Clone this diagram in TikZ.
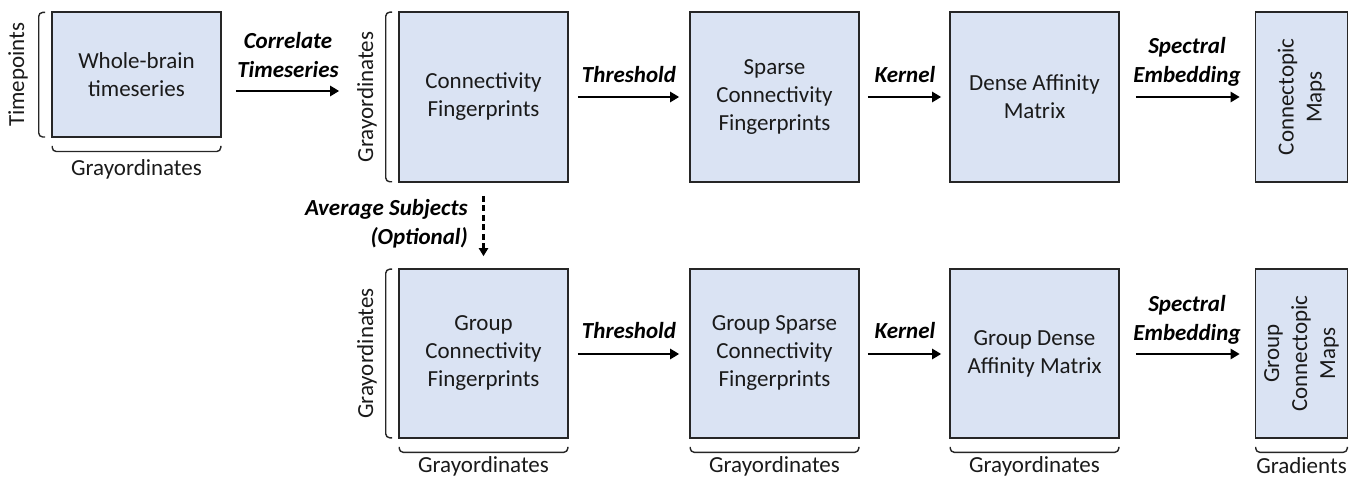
\documentclass[tikz,border=0pt]{standalone}
\usepackage{fontspec}
\setmainfont{Carlito}
\usetikzlibrary{arrows.meta}
\definecolor{boxfill}{HTML}{DAE3F3}
\definecolor{boxline}{HTML}{262626}
\definecolor{txt}{HTML}{1A1A1A}
\begin{document}
\begin{tikzpicture}[x=1pt,y=-1pt,
  mbox/.style={draw=boxline, fill=boxfill, line width=1.6pt, inner sep=0pt, align=center, text=txt, font=\fontsize{23}{28}\selectfont},
  lbl/.style={font=\fontsize{23}{29}\selectfont\bfseries\itshape, align=center, text=black, inner sep=0pt},
  axislbl/.style={font=\fontsize{23}{28}\selectfont, text=txt, inner sep=0pt},
  flow/.style={line width=2.6pt, -{Triangle[length=9pt,width=10pt]}},
  dflow/.style={line width=2.2pt, dash pattern=on 6pt off 3.5pt, -{Triangle[length=8pt,width=9pt]}},
  brk/.style={line width=1.4pt, draw=boxline, rounded corners=4pt}
]
\useasboundingbox (0,0) rectangle (1360,478);

% row 1 boxes
\node[mbox, minimum width=169pt, minimum height=125pt] (b1) at (136.5,74.7) {Whole-brain\\timeseries};
\node[mbox, minimum width=169pt, minimum height=170pt] (b2) at (483.5,97) {Connectivity\\Fingerprints};
\node[mbox, minimum width=169pt, minimum height=170pt] (b3) at (774.5,97) {Sparse\\Connectivity\\Fingerprints};
\node[mbox, minimum width=169pt, minimum height=170pt] (b4) at (1034.5,97) {Dense Affinity\\Matrix};
\node[mbox, rotate=90, minimum width=170pt, minimum height=92pt] (b5) at (1301.5,97) {Connectopic\\Maps};

% row 2 boxes
\node[mbox, minimum width=169pt, minimum height=169pt] (b6) at (483.5,353.5) {Group\\Connectivity\\Fingerprints};
\node[mbox, minimum width=169pt, minimum height=169pt] (b7) at (774.5,353.5) {Group Sparse\\Connectivity\\Fingerprints};
\node[mbox, minimum width=169pt, minimum height=169pt] (b8) at (1034.5,353.5) {Group Dense\\Affinity Matrix};
\node[mbox, rotate=90, minimum width=169pt, minimum height=92pt] (b9) at (1301.5,353.5) {Group\\Connectopic\\Maps};

% arrows row 1
\draw[flow] ([shift={(14,16.3)}]b1.east) -- ([shift={(-59,-6)}]b2.west);
\draw[flow] ([shift={(9,0)}]b2.east) -- ([shift={(-10,0)}]b3.west);
\draw[flow] ([shift={(8,0)}]b3.east) -- ([shift={(-8,0)}]b4.west);
\draw[flow] ([shift={(16,0)}]b4.east) -- ([shift={(-15,0)}]b5.north);
% arrows row 2
\draw[flow] ([shift={(9,0.5)}]b6.east) -- ([shift={(-10,0.5)}]b7.west);
\draw[flow] ([shift={(8,0.5)}]b7.east) -- ([shift={(-8,0.5)}]b8.west);
\draw[flow] ([shift={(16,0.5)}]b8.east) -- ([shift={(-15,0.5)}]b9.north);
% dashed
\draw[dflow] ([shift={(0,13)}]b2.south) -- ([shift={(0,-12)}]b6.north);

% arrow labels
\node[lbl] (l1) at (288,55.5) {Correlate\\Timeseries};
\node[lbl] (l2) at (629,75) {Threshold};
\node[lbl] (l3) at (905,75) {Kernel};
\node[lbl] (l4) at (1187,61.7) {Spectral\\Embedding};
\node[lbl] (l5) at (629,331) {Threshold};
\node[lbl] (l6) at (905,331) {Kernel};
\node[lbl] (l7) at (1187,320) {Spectral\\Embedding};
\node[lbl, align=right, anchor=east] (l8) at (468,224) {Average Subjects\\(Optional)};

% left brackets
\draw[brk] ([shift={(-6,1)}]b1.north west) -- ([shift={(-12.5,1)}]b1.north west) -- ([shift={(-12.5,-1)}]b1.south west) -- ([shift={(-6,-1)}]b1.south west);
\draw[brk] ([shift={(-6,1)}]b2.north west) -- ([shift={(-12.5,1)}]b2.north west) -- ([shift={(-12.5,-1)}]b2.south west) -- ([shift={(-6,-1)}]b2.south west);
\draw[brk] ([shift={(-6,1)}]b6.north west) -- ([shift={(-12.5,1)}]b6.north west) -- ([shift={(-12.5,-1)}]b6.south west) -- ([shift={(-6,-1)}]b6.south west);

% bottom brackets
\draw[brk] ([shift={(1,8)}]b1.south west) -- ([shift={(1,13.5)}]b1.south west) -- ([shift={(-1,13.5)}]b1.south east) -- ([shift={(-1,8)}]b1.south east);
\draw[brk] ([shift={(1,8)}]b6.south west) -- ([shift={(1,13.5)}]b6.south west) -- ([shift={(-1,13.5)}]b6.south east) -- ([shift={(-1,8)}]b6.south east);
\draw[brk] ([shift={(1,8)}]b7.south west) -- ([shift={(1,13.5)}]b7.south west) -- ([shift={(-1,13.5)}]b7.south east) -- ([shift={(-1,8)}]b7.south east);
\draw[brk] ([shift={(1,8)}]b8.south west) -- ([shift={(1,13.5)}]b8.south west) -- ([shift={(-1,13.5)}]b8.south east) -- ([shift={(-1,8)}]b8.south east);
\draw[brk] ([shift={(1,8)}]b9.north west) -- ([shift={(1,13.5)}]b9.north west) -- ([shift={(-1,13.5)}]b9.south west) -- ([shift={(-1,8)}]b9.south west);

% axis labels
\node[axislbl, rotate=90] (ax1) at (18,74.7) {Timepoints};
\node[axislbl] (ax2) at (136.5,169) {Grayordinates};
\node[axislbl, rotate=90] (ax3) at (367,97) {Grayordinates};
\node[axislbl, rotate=90] (ax4) at (367,353.5) {Grayordinates};
\node[axislbl] (ax5) at (483.5,466) {Grayordinates};
\node[axislbl] (ax6) at (774.5,466) {Grayordinates};
\node[axislbl] (ax7) at (1034.5,466) {Grayordinates};
\node[axislbl] (ax8) at (1301.5,466) {Gradients};
\end{tikzpicture}
\end{document}
